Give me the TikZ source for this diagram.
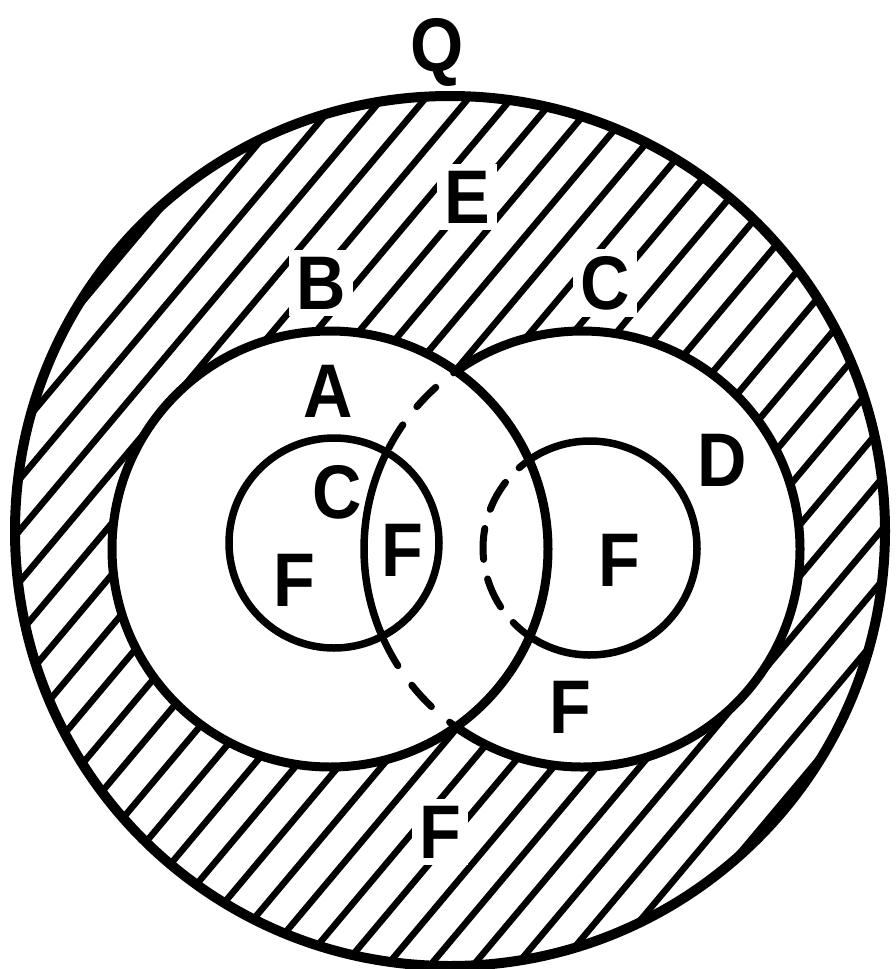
\documentclass[tikz,border=0pt]{standalone}
\usepackage{fontspec}
\newfontfamily\lab{Liberation Sans}[FakeStretch=0.9]
\begin{document}
\begin{tikzpicture}[x=1pt,y=1pt,
  lbl/.style={font=\lab\bfseries\fontsize{76}{76}\selectfont, inner sep=0pt},
  hlbl/.style={lbl, fill=white, inner sep=7pt},
  hatch/.style={line width=6.5pt},
  rim/.style={line width=10pt},
  ring/.style={line width=9pt},
  small/.style={line width=7.5pt},
  dsh/.style={line width=7pt, line cap=round}]
\useasboundingbox (0,0) rectangle (895,-969);
\coordinate (O) at (450,-531);
\coordinate (Bc) at (330,-549);
\coordinate (Cc) at (582,-549);
\coordinate (Lc) at (334,-543);
\coordinate (Rc) at (590,-548);
% hatching of the ring
\begin{scope}
  \clip (O) circle[radius=435pt];
  \begin{scope}[shift={(O)}, rotate=50]
    \foreach \k in {-14,...,14} \draw[hatch] (-460,\k*33) -- (460,\k*33);
  \end{scope}
\end{scope}
% labels in the hatched ring
\node[hlbl] (e) at (467,-197) {E};
\node[hlbl] (b) at (321,-283) {B};
\node[hlbl] (c1) at (605,-283) {C};
\node[hlbl] (f5) at (440,-832) {F};
% white interiors of B and C
\fill[white] (Bc) circle[radius=218pt] (Cc) circle[radius=218pt];
% outlines
\draw[rim] (O) circle[radius=435pt];
\draw[ring] (Bc) circle[radius=218pt];
\draw[ring] ([shift={(-125.3:218pt)}]Cc) arc[start angle=-125.3, end angle=125.3, radius=218pt];
\draw[small] ([shift={(153.6:218pt)}]Cc) arc[start angle=153.6, end angle=203.6, radius=218pt];
\draw[dsh, dash pattern=on 27pt off 23pt, dash phase=24pt]
  ([shift={(125.3:218pt)}]Cc) arc[start angle=125.3, end angle=153.6, radius=218pt];
\draw[dsh, dash pattern=on 29pt off 24pt, dash phase=21pt]
  ([shift={(234.7:218pt)}]Cc) arc[start angle=234.7, end angle=203.6, radius=218pt];
\draw[small] (Lc) circle[radius=105pt];
\draw[small] ([shift={(-124.5:107pt)}]Rc) arc[start angle=-124.5, end angle=124.5, radius=107pt];
\draw[dsh, dash pattern=on 31pt off 20pt, dash phase=18pt]
  ([shift={(124.5:107pt)}]Rc) arc[start angle=124.5, end angle=235.5, radius=107pt];
% other labels
\node[lbl] (q) at (437,-52) {Q};
\node[lbl] (a) at (328,-391) {A};
\node[lbl] (c2) at (337,-492) {C};
\node[lbl] (f1) at (294,-580) {F};
\node[lbl] (f2) at (402,-550) {F};
\node[lbl] (d) at (722,-460) {D};
\node[lbl] (f3) at (619,-560) {F};
\node[lbl] (f4) at (570,-707) {F};
\end{tikzpicture}
\end{document}
